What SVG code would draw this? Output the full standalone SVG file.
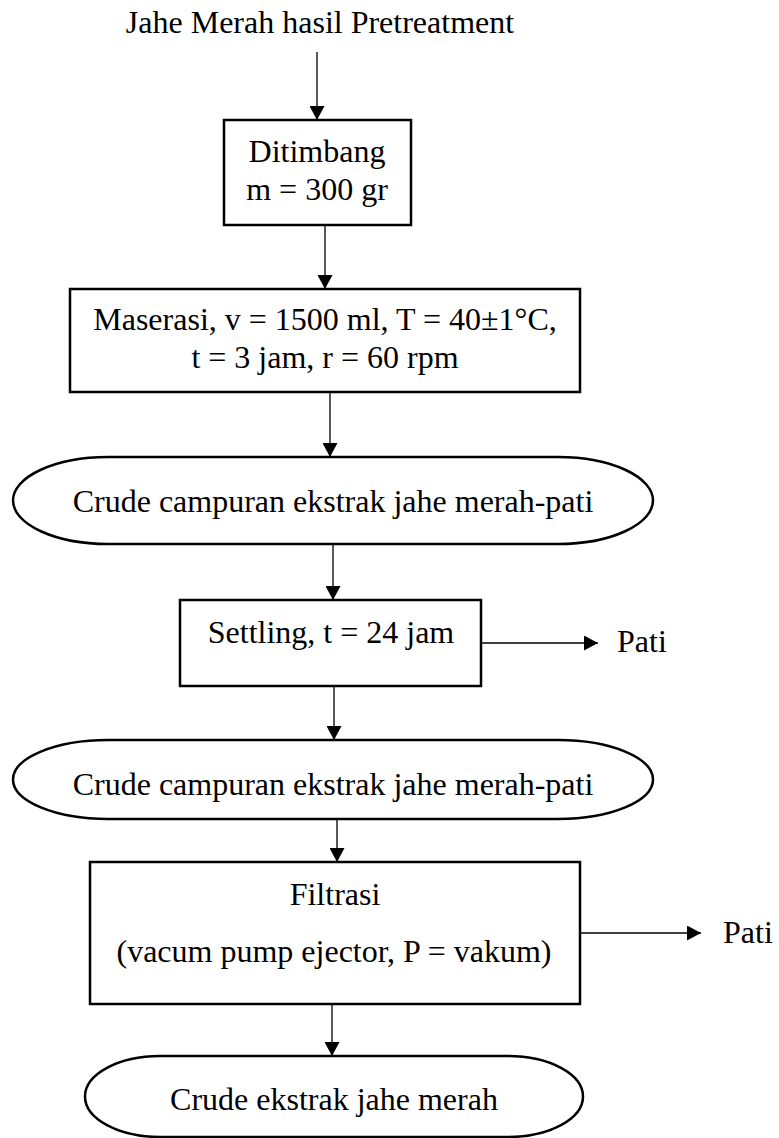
<svg xmlns="http://www.w3.org/2000/svg" width="779" height="1138" viewBox="0 0 779 1138">
<style>
text{font-family:"Liberation Serif","Times New Roman",serif;font-size:32px;fill:#000}
.c{text-anchor:middle}
.box{fill:#fff;stroke:#000;stroke-width:2.5}
.arr{stroke:#000;stroke-width:1.3;fill:none;marker-end:url(#ah)}
</style>
<defs>
<marker id="ah" markerUnits="userSpaceOnUse" markerWidth="15" markerHeight="15" refX="14" refY="7.5" orient="auto">
<path d="M0,0 L14,7.5 L0,15 z" fill="#000"/>
</marker>
</defs>
<g id="connectors">
<line class="arr" x1="317" y1="52" x2="317" y2="120"/>
<line class="arr" x1="325" y1="225" x2="325" y2="289"/>
<line class="arr" x1="330" y1="392" x2="330" y2="457"/>
<line class="arr" x1="333" y1="544" x2="333" y2="600"/>
<line class="arr" x1="481" y1="643" x2="598" y2="643"/>
<line class="arr" x1="334" y1="686" x2="334" y2="740"/>
<line class="arr" x1="337" y1="819" x2="337" y2="862"/>
<line class="arr" x1="580" y1="933" x2="701" y2="933"/>
<line class="arr" x1="332" y1="1004" x2="332" y2="1056"/>
</g>
<g id="start"><text class="c" x="320" y="33">Jahe Merah hasil Pretreatment</text></g>
<g id="ditimbang">
<rect class="box" x="224" y="120" width="187" height="105"/>
<text class="c" x="317" y="162">Ditimbang</text>
<text class="c" x="317" y="200">m = 300 gr</text>
</g>
<g id="maserasi">
<rect class="box" x="70" y="289" width="510" height="103"/>
<text class="c" x="325" y="330">Maserasi, v = 1500 ml, T = 40±1°C,</text>
<text class="c" x="325" y="368">t = 3 jam, r = 60 rpm</text>
</g>
<g id="crude1">
<rect class="box" x="13" y="457" width="640" height="87" rx="95" ry="43.5"/>
<text class="c" x="333" y="512">Crude campuran ekstrak jahe merah-pati</text>
</g>
<g id="settling">
<rect class="box" x="180" y="600" width="301" height="86"/>
<text class="c" x="331" y="643">Settling, t = 24 jam</text>
</g>
<g id="pati1"><text x="617" y="652">Pati</text></g>
<g id="crude2">
<rect class="box" x="13" y="740" width="640" height="79" rx="95" ry="39.5"/>
<text class="c" x="333" y="795">Crude campuran ekstrak jahe merah-pati</text>
</g>
<g id="filtrasi">
<rect class="box" x="90" y="862" width="490" height="142"/>
<text class="c" x="335" y="905">Filtrasi</text>
<text class="c" x="334" y="962">(vacum pump ejector, P = vakum)</text>
</g>
<g id="pati2"><text x="723" y="943">Pati</text></g>
<g id="crude3">
<rect class="box" x="85" y="1056" width="498" height="81" rx="75" ry="40.5"/>
<text class="c" x="334" y="1110">Crude ekstrak jahe merah</text>
</g>
</svg>
